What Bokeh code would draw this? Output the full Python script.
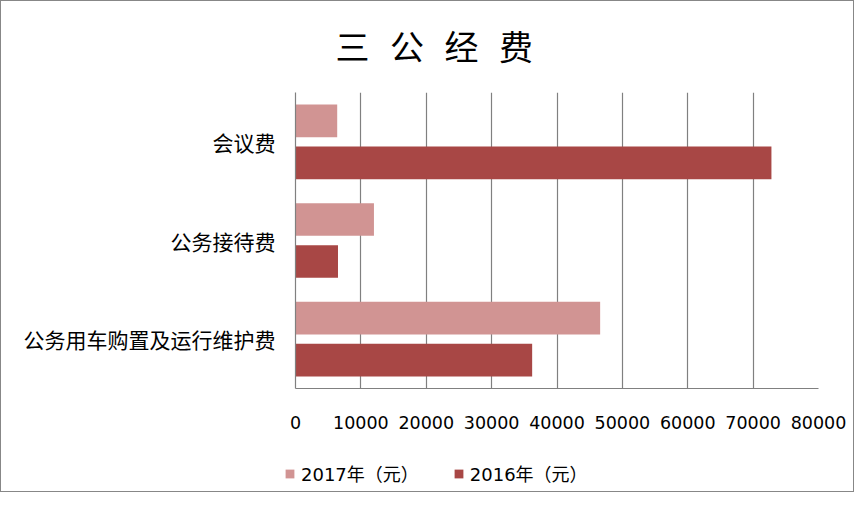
from bokeh.plotting import figure
from bokeh.models import ColumnDataSource, Legend, LegendItem, FixedTicker, NumeralTickFormatter, FactorRange, Range1d, Title
from bokeh.layouts import column, row
from bokeh.transform import dodge
from bokeh.embed import file_html
from bokeh.resources import INLINE

categories = ["会议费", "公务接待费", "公务用车购置及运行维护费"]
values_2017 = [6380, 12000, 46600]
values_2016 = [72800, 6500, 36200]
series_names = ["2017年（元）", "2016年（元）"]
x_ticks = [0, 10000, 20000, 30000, 40000, 50000, 60000, 70000, 80000]
title_text = "三 公 经 费"

c2017 = "#D19493"
c2016 = "#A84745"
grid_c = "#808080"
border_c = "#878787"

src = ColumnDataSource(dict(cat=categories, v2017=values_2017, v2016=values_2016))

p = figure(width=852, height=440, output_backend="svg", toolbar_location=None,
           y_range=FactorRange(factors=list(reversed(categories)), range_padding=0),
           x_range=Range1d(0, 80000),
           min_border_left=294, min_border_right=35, min_border_top=91, min_border_bottom=53)
p.title = Title(text=title_text, align="left", offset=40,
                text_font="DejaVu Sans Mono, Noto Sans CJK SC", text_font_size="34px",
                text_font_style="normal", text_color="black", standoff=49)

r17 = p.hbar(y=dodge("cat", 0.213, range=p.y_range), right="v2017", left=0, height=0.331,
             source=src, fill_color=c2017, line_color=None)
r16 = p.hbar(y=dodge("cat", -0.213, range=p.y_range), right="v2016", left=0, height=0.331,
             source=src, fill_color=c2016, line_color=None)

p.outline_line_color = None
p.background_fill_color = "white"
p.border_fill_color = "white"

p.xaxis.ticker = FixedTicker(ticks=x_ticks)
p.xaxis.formatter = NumeralTickFormatter(format="0")
p.xaxis.major_tick_out = 0
p.xaxis.major_tick_in = 0
p.xaxis.minor_tick_out = 0
p.xaxis.minor_tick_in = 0
p.xaxis.axis_line_color = grid_c
p.xaxis.axis_line_width = 1.2
p.xaxis.major_label_standoff = 27
p.xaxis.major_label_text_font = "DejaVu Sans"
p.xaxis.major_label_text_font_size = "17.5px"
p.xaxis.major_label_text_color = "black"

p.yaxis.major_tick_out = 0
p.yaxis.major_tick_in = 0
p.yaxis.axis_line_color = grid_c
p.yaxis.axis_line_width = 1.2
p.yaxis.major_label_standoff = 20
p.yaxis.major_label_text_font = "Noto Sans CJK SC"
p.yaxis.major_label_text_font_size = "21px"
p.yaxis.major_label_text_color = "black"

p.xgrid.grid_line_color = grid_c
p.xgrid.grid_line_width = 1.2
p.xgrid.ticker = FixedTicker(ticks=x_ticks)
p.ygrid.grid_line_color = None

# legend strip below the chart (same series; its bars lie outside the strip's visible range)
lg = figure(width=852, height=50, output_backend="svg", toolbar_location=None,
            x_range=Range1d(-2, -1), y_range=FactorRange(factors=list(reversed(categories))),
            x_axis_location=None, y_axis_location=None, min_border=0)
lg.outline_line_color = None
lg.xgrid.grid_line_color = None
lg.ygrid.grid_line_color = None
lr17 = lg.hbar(y="cat", right="v2017", left=0, height=0.3, source=src,
               fill_color=c2017, line_color=None)
lr16 = lg.hbar(y="cat", right="v2016", left=0, height=0.3, source=src,
               fill_color=c2016, line_color=None)
legend = Legend(items=[LegendItem(label=series_names[0], renderers=[lr17]),
                       LegendItem(label=series_names[1], renderers=[lr16])],
                orientation="horizontal", location=(283, 5),
                padding=0, margin=0, spacing=34, label_standoff=6,
                glyph_width=11, glyph_height=11, label_height=20,
                border_line_color=None, background_fill_alpha=0,
                label_text_font="DejaVu Sans, Noto Sans CJK SC", label_text_font_size="18px",
                label_text_color="black")
lg.add_layout(legend, "center")

layout = column(p, row(lg), spacing=0)
layout.styles = {"border": "1px solid " + border_c}

open("out.html", "w").write(file_html(layout, INLINE))
